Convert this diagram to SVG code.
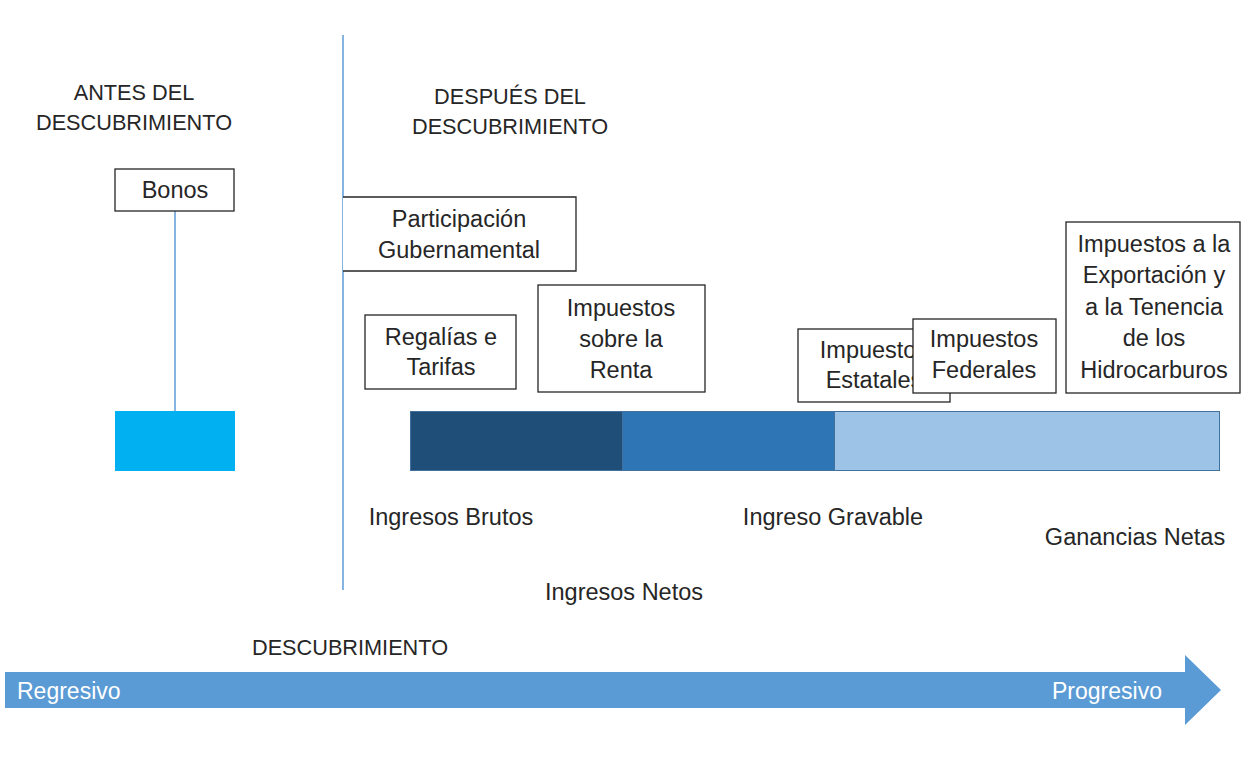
<svg xmlns="http://www.w3.org/2000/svg" width="1241" height="772" viewBox="0 0 1241 772">
<style>
text{font-family:"Liberation Sans",Arial,sans-serif;font-size:23.5px;fill:#262626;text-anchor:middle}
text.cap{font-size:21.7px}
.box{fill:#fff;stroke:#262626;stroke-width:1.3}
.ln{stroke:#5B9BD5;stroke-width:1.5;fill:none}
.seg{stroke:#41719C;stroke-width:1}
text.w{fill:#fff;text-anchor:start;font-size:23px}
</style>
<rect width="1241" height="772" fill="#fff"/>
<g id="headings">
<text class="cap" x="134" y="100">ANTES DEL</text>
<text class="cap" x="134" y="130">DESCUBRIMIENTO</text>
<text class="cap" x="510" y="104">DESPUÉS DEL</text>
<text class="cap" x="510" y="134">DESCUBRIMIENTO</text>
</g>
<g id="connectors">
<line class="ln" x1="343" y1="35" x2="343" y2="590"/>
<line class="ln" x1="175" y1="211" x2="175" y2="411"/>
</g>
<g id="bonos">
<rect class="box" x="115" y="169" width="119" height="42"/>
<text x="175" y="198">Bonos</text>
</g>
<g id="bonos-bar">
<rect x="115" y="411" width="120" height="60" fill="#00B0F0"/>
</g>
<g id="participacion">
<path class="box" d="M343 197 H576 V271 H343"/>
<text x="459" y="227">Participación</text>
<text x="459" y="258">Gubernamental</text>
</g>
<g id="regalias">
<rect class="box" x="365" y="315" width="151" height="74"/>
<text x="441" y="345">Regalías e</text>
<text x="441" y="375">Tarifas</text>
</g>
<g id="renta">
<rect class="box" x="538" y="285" width="167" height="107"/>
<text x="621" y="316">Impuestos</text>
<text x="621" y="347">sobre la</text>
<text x="621" y="378">Renta</text>
</g>
<g id="estatales">
<rect class="box" x="798" y="329" width="152" height="73"/>
<text x="874" y="358">Impuestos</text>
<text x="874" y="388">Estatales</text>
</g>
<g id="federales">
<rect class="box" x="913" y="319" width="143" height="74"/>
<text x="984" y="347">Impuestos</text>
<text x="984" y="378">Federales</text>
</g>
<g id="hidrocarburos">
<rect class="box" x="1066" y="222" width="174" height="171"/>
<text x="1154" y="252">Impuestos a la</text>
<text x="1154" y="283">Exportación y</text>
<text x="1154" y="315">a la Tenencia</text>
<text x="1154" y="346">de los</text>
<text x="1154" y="378">Hidrocarburos</text>
</g>
<g id="bar">
<rect class="seg" x="410.5" y="411.5" width="212" height="59" fill="#1F4E79"/>
<rect class="seg" x="622.5" y="411.5" width="212" height="59" fill="#2E75B6"/>
<rect class="seg" x="834.5" y="411.5" width="385" height="59" fill="#9DC3E6"/>
</g>
<g id="labels">
<text x="451" y="525">Ingresos Brutos</text>
<text x="833" y="525">Ingreso Gravable</text>
<text x="1135" y="545">Ganancias Netas</text>
<text x="624" y="600">Ingresos Netos</text>
<text class="cap" x="350" y="655">DESCUBRIMIENTO</text>
</g>
<g id="arrow">
<path d="M5 672 H1185 V655 L1221 690 L1185 725 V708 H5 Z" fill="#5B9BD5"/>
<text class="w" x="17" y="699">Regresivo</text>
<text class="w" x="1052" y="699">Progresivo</text>
</g>
</svg>
